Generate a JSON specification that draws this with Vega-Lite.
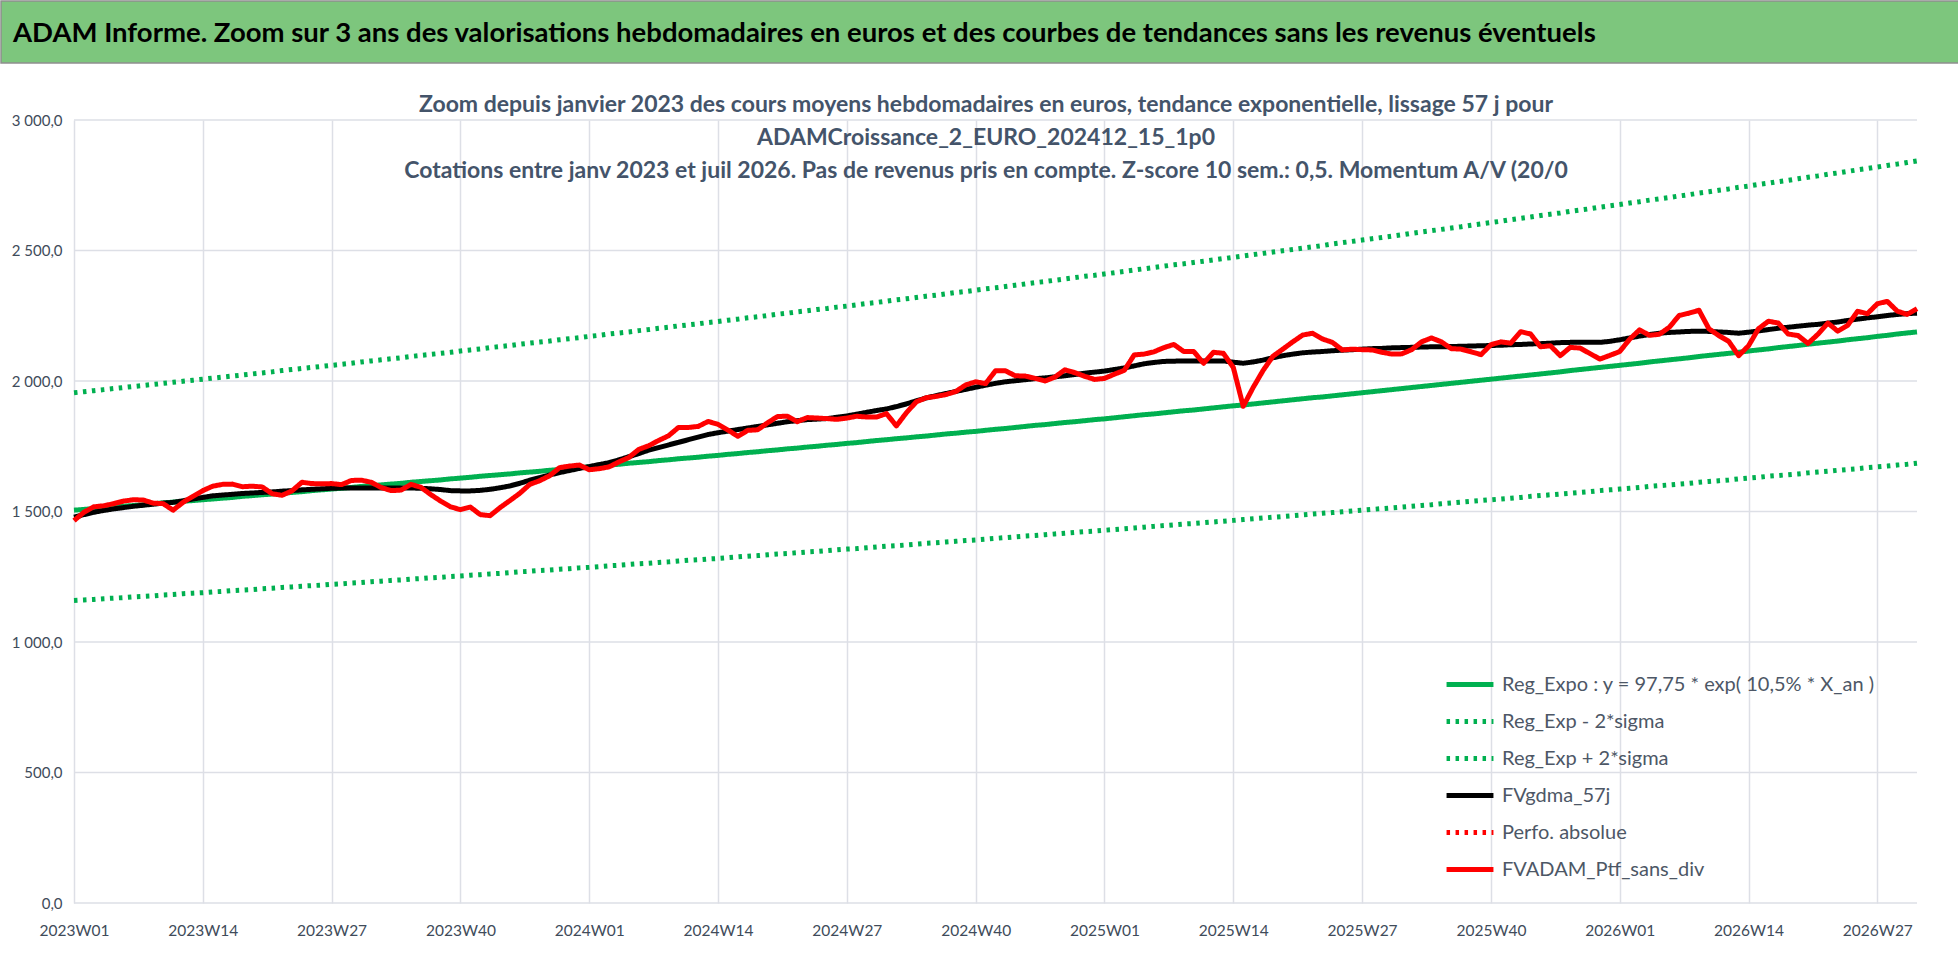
{
"$schema": "https://vega.github.io/schema/vega-lite/v6.json",
"padding": 0,
"background": "white",
"spacing": 30,
"resolve": {"legend": {"color": "independent", "strokeDash": "independent"}, "scale": {"x": "independent", "y": "independent"}},
"config": {
  "locale": {"number": {"decimal": ",", "thousands": " ", "grouping": [3], "currency": ["", " €"]}},
  "font": "Lato",
  "view": {"stroke": null}
},
"vconcat": [
{
  "width": 1958, "height": 62,
  "view": {"fill": "#7DC67D", "stroke": "#8F8F8F", "strokeWidth": 1.5},
  "data": {"values": [{"t": "ADAM Informe. Zoom sur 3 ans des valorisations hebdomadaires en euros et des courbes de tendances sans les revenus éventuels", "px": 0, "py": 0.47}]},
  "mark": {"type": "text", "align": "left", "baseline": "middle", "dx": 12, "font": "Lato", "fontSize": 27.5, "fontWeight": "bold", "color": "#000000"},
  "encoding": {
    "text": {"field": "t"},
    "x": {"field": "px", "type": "quantitative", "scale": {"domain": [0, 1]}, "axis": null},
    "y": {"field": "py", "type": "quantitative", "scale": {"domain": [0, 1]}, "axis": null}
  }
},
{
  "width": 1916, "height": 783,
  "title": {"text": ["Zoom depuis janvier 2023 des cours moyens hebdomadaires  en euros, tendance exponentielle, lissage 57 j pour", "ADAMCroissance_2_EURO_202412_15_1p0", "Cotations  entre janv 2023 et juil 2026. Pas de revenus pris en compte. Z-score 10 sem.: 0,5. Momentum A/V (20/0"], "anchor": "middle", "frame": "group", "orient": "top", "baseline": "bottom", "offset": -93, "dx": 27, "font": "Lato", "fontSize": 23, "lineHeight": 33, "fontWeight": "bold", "color": "#44546A"},
  "layer": [
  {
    "data": {"values": [{"g": 0}, {"g": 500}, {"g": 1000}, {"g": 1500}, {"g": 2000}, {"g": 2500}, {"g": 3000}]},
    "mark": {"type": "rule", "color": "#DDDFE6", "strokeWidth": 1.5},
    "encoding": {
      "y": {"field": "g", "type": "quantitative",
        "axis": {"values": [0, 500, 1000, 1500, 2000, 2500, 3000], "format": ",.1f", "title": null,
          "domain": false, "ticks": false, "tickSize": 0, "labelPadding": 0, "offset": -61,
          "grid": false, "labelFont": "Lato", "labelFontSize": 15, "labelColor": "#404B5A"}},
      "x": {"datum": "2023W01", "type": "ordinal"},
      "x2": {"datum": "2026W31"}
    }
  },
  {
  "data": {"values": [
{"w":"2023W01","a":1505,"b":1159,"c":1955,"d":1478,"f":1465},
{"w":"2023W02","a":1508,"b":1161,"c":1959,"d":1488,"f":1497},
{"w":"2023W03","a":1511,"b":1163,"c":1963,"d":1497,"f":1518},
{"w":"2023W04","a":1514,"b":1166,"c":1967,"d":1504,"f":1522},
{"w":"2023W05","a":1517,"b":1168,"c":1971,"d":1510,"f":1530},
{"w":"2023W06","a":1520,"b":1170,"c":1975,"d":1515,"f":1540},
{"w":"2023W07","a":1523,"b":1173,"c":1979,"d":1520,"f":1545},
{"w":"2023W08","a":1526,"b":1175,"c":1983,"d":1524,"f":1544},
{"w":"2023W09","a":1530,"b":1177,"c":1987,"d":1528,"f":1532},
{"w":"2023W10","a":1533,"b":1180,"c":1991,"d":1532,"f":1530},
{"w":"2023W11","a":1536,"b":1182,"c":1995,"d":1535,"f":1505},
{"w":"2023W12","a":1539,"b":1185,"c":1999,"d":1541,"f":1535},
{"w":"2023W13","a":1542,"b":1187,"c":2003,"d":1548,"f":1558},
{"w":"2023W14","a":1545,"b":1189,"c":2007,"d":1554,"f":1580},
{"w":"2023W15","a":1548,"b":1192,"c":2011,"d":1560,"f":1597},
{"w":"2023W16","a":1551,"b":1194,"c":2015,"d":1563,"f":1604},
{"w":"2023W17","a":1554,"b":1197,"c":2019,"d":1566,"f":1605},
{"w":"2023W18","a":1558,"b":1199,"c":2023,"d":1569,"f":1595},
{"w":"2023W19","a":1561,"b":1201,"c":2027,"d":1571,"f":1597},
{"w":"2023W20","a":1564,"b":1204,"c":2031,"d":1573,"f":1594},
{"w":"2023W21","a":1567,"b":1206,"c":2035,"d":1575,"f":1568},
{"w":"2023W22","a":1570,"b":1209,"c":2040,"d":1578,"f":1562},
{"w":"2023W23","a":1573,"b":1211,"c":2044,"d":1580,"f":1579},
{"w":"2023W24","a":1576,"b":1214,"c":2048,"d":1583,"f":1612},
{"w":"2023W25","a":1580,"b":1216,"c":2052,"d":1585,"f":1607},
{"w":"2023W26","a":1583,"b":1218,"c":2056,"d":1587,"f":1606},
{"w":"2023W27","a":1586,"b":1221,"c":2060,"d":1589,"f":1607},
{"w":"2023W28","a":1589,"b":1223,"c":2064,"d":1590,"f":1603},
{"w":"2023W29","a":1592,"b":1226,"c":2068,"d":1590,"f":1619},
{"w":"2023W30","a":1596,"b":1228,"c":2073,"d":1590,"f":1620},
{"w":"2023W31","a":1599,"b":1231,"c":2077,"d":1590,"f":1612},
{"w":"2023W32","a":1602,"b":1233,"c":2081,"d":1590,"f":1592},
{"w":"2023W33","a":1605,"b":1236,"c":2085,"d":1590,"f":1580},
{"w":"2023W34","a":1608,"b":1238,"c":2089,"d":1590,"f":1582},
{"w":"2023W35","a":1612,"b":1241,"c":2094,"d":1590,"f":1604},
{"w":"2023W36","a":1615,"b":1243,"c":2098,"d":1589,"f":1593},
{"w":"2023W37","a":1618,"b":1246,"c":2102,"d":1587,"f":1565},
{"w":"2023W38","a":1621,"b":1248,"c":2106,"d":1584,"f":1540},
{"w":"2023W39","a":1625,"b":1251,"c":2110,"d":1580,"f":1518},
{"w":"2023W40","a":1628,"b":1253,"c":2115,"d":1579,"f":1507},
{"w":"2023W41","a":1631,"b":1256,"c":2119,"d":1579,"f":1517},
{"w":"2023W42","a":1635,"b":1258,"c":2123,"d":1581,"f":1488},
{"w":"2023W43","a":1638,"b":1261,"c":2128,"d":1585,"f":1484},
{"w":"2023W44","a":1641,"b":1263,"c":2132,"d":1591,"f":1515},
{"w":"2023W45","a":1644,"b":1266,"c":2136,"d":1598,"f":1542},
{"w":"2023W46","a":1648,"b":1269,"c":2141,"d":1608,"f":1570},
{"w":"2023W47","a":1651,"b":1271,"c":2145,"d":1620,"f":1604},
{"w":"2023W48","a":1654,"b":1274,"c":2149,"d":1630,"f":1618},
{"w":"2023W49","a":1658,"b":1276,"c":2153,"d":1640,"f":1637},
{"w":"2023W50","a":1661,"b":1279,"c":2158,"d":1649,"f":1668},
{"w":"2023W51","a":1664,"b":1281,"c":2162,"d":1657,"f":1674},
{"w":"2023W52","a":1668,"b":1284,"c":2166,"d":1665,"f":1678},
{"w":"2024W01","a":1671,"b":1286,"c":2171,"d":1672,"f":1660},
{"w":"2024W02","a":1674,"b":1289,"c":2175,"d":1680,"f":1664},
{"w":"2024W03","a":1678,"b":1292,"c":2180,"d":1687,"f":1671},
{"w":"2024W04","a":1681,"b":1294,"c":2184,"d":1698,"f":1690},
{"w":"2024W05","a":1685,"b":1297,"c":2188,"d":1710,"f":1707},
{"w":"2024W06","a":1688,"b":1300,"c":2193,"d":1722,"f":1738},
{"w":"2024W07","a":1691,"b":1302,"c":2197,"d":1735,"f":1752},
{"w":"2024W08","a":1695,"b":1305,"c":2202,"d":1745,"f":1772},
{"w":"2024W09","a":1698,"b":1307,"c":2206,"d":1755,"f":1790},
{"w":"2024W10","a":1702,"b":1310,"c":2211,"d":1765,"f":1822},
{"w":"2024W11","a":1705,"b":1313,"c":2215,"d":1775,"f":1822},
{"w":"2024W12","a":1708,"b":1315,"c":2219,"d":1785,"f":1826},
{"w":"2024W13","a":1712,"b":1318,"c":2224,"d":1795,"f":1845},
{"w":"2024W14","a":1715,"b":1320,"c":2228,"d":1802,"f":1834},
{"w":"2024W15","a":1719,"b":1323,"c":2233,"d":1808,"f":1812},
{"w":"2024W16","a":1722,"b":1326,"c":2237,"d":1814,"f":1788},
{"w":"2024W17","a":1726,"b":1329,"c":2242,"d":1820,"f":1811},
{"w":"2024W18","a":1729,"b":1331,"c":2246,"d":1826,"f":1813},
{"w":"2024W19","a":1733,"b":1334,"c":2251,"d":1832,"f":1840},
{"w":"2024W20","a":1736,"b":1337,"c":2256,"d":1838,"f":1864},
{"w":"2024W21","a":1740,"b":1339,"c":2260,"d":1844,"f":1865},
{"w":"2024W22","a":1743,"b":1342,"c":2265,"d":1848,"f":1844},
{"w":"2024W23","a":1747,"b":1345,"c":2269,"d":1852,"f":1860},
{"w":"2024W24","a":1750,"b":1347,"c":2274,"d":1854,"f":1858},
{"w":"2024W25","a":1754,"b":1350,"c":2278,"d":1856,"f":1856},
{"w":"2024W26","a":1757,"b":1353,"c":2283,"d":1861,"f":1853},
{"w":"2024W27","a":1761,"b":1356,"c":2287,"d":1866,"f":1858},
{"w":"2024W28","a":1764,"b":1358,"c":2292,"d":1873,"f":1865},
{"w":"2024W29","a":1768,"b":1361,"c":2297,"d":1880,"f":1862},
{"w":"2024W30","a":1772,"b":1364,"c":2301,"d":1887,"f":1862},
{"w":"2024W31","a":1775,"b":1367,"c":2306,"d":1893,"f":1875},
{"w":"2024W32","a":1779,"b":1369,"c":2311,"d":1902,"f":1828},
{"w":"2024W33","a":1782,"b":1372,"c":2315,"d":1912,"f":1878},
{"w":"2024W34","a":1786,"b":1375,"c":2320,"d":1924,"f":1920},
{"w":"2024W35","a":1789,"b":1378,"c":2325,"d":1935,"f":1936},
{"w":"2024W36","a":1793,"b":1380,"c":2329,"d":1944,"f":1941},
{"w":"2024W37","a":1797,"b":1383,"c":2334,"d":1952,"f":1948},
{"w":"2024W38","a":1800,"b":1386,"c":2339,"d":1960,"f":1960},
{"w":"2024W39","a":1804,"b":1389,"c":2343,"d":1968,"f":1985},
{"w":"2024W40","a":1807,"b":1391,"c":2348,"d":1976,"f":1997},
{"w":"2024W41","a":1811,"b":1394,"c":2353,"d":1984,"f":1990},
{"w":"2024W42","a":1815,"b":1397,"c":2357,"d":1991,"f":2039},
{"w":"2024W43","a":1818,"b":1400,"c":2362,"d":1997,"f":2039},
{"w":"2024W44","a":1822,"b":1403,"c":2367,"d":2001,"f":2020},
{"w":"2024W45","a":1826,"b":1406,"c":2372,"d":2005,"f":2019},
{"w":"2024W46","a":1830,"b":1408,"c":2377,"d":2009,"f":2010},
{"w":"2024W47","a":1833,"b":1411,"c":2381,"d":2012,"f":2000},
{"w":"2024W48","a":1837,"b":1414,"c":2386,"d":2016,"f":2015},
{"w":"2024W49","a":1841,"b":1417,"c":2391,"d":2020,"f":2043},
{"w":"2024W50","a":1844,"b":1420,"c":2396,"d":2025,"f":2032},
{"w":"2024W51","a":1848,"b":1423,"c":2401,"d":2030,"f":2018},
{"w":"2024W52","a":1852,"b":1425,"c":2405,"d":2034,"f":2006},
{"w":"2025W01","a":1855,"b":1428,"c":2410,"d":2038,"f":2010},
{"w":"2025W02","a":1859,"b":1431,"c":2415,"d":2044,"f":2026},
{"w":"2025W03","a":1863,"b":1434,"c":2420,"d":2050,"f":2041},
{"w":"2025W04","a":1867,"b":1437,"c":2425,"d":2058,"f":2100},
{"w":"2025W05","a":1871,"b":1440,"c":2430,"d":2066,"f":2103},
{"w":"2025W06","a":1874,"b":1443,"c":2435,"d":2071,"f":2112},
{"w":"2025W07","a":1878,"b":1446,"c":2440,"d":2075,"f":2128},
{"w":"2025W08","a":1882,"b":1449,"c":2445,"d":2076,"f":2140},
{"w":"2025W09","a":1886,"b":1452,"c":2449,"d":2077,"f":2113},
{"w":"2025W10","a":1889,"b":1454,"c":2454,"d":2077,"f":2113},
{"w":"2025W11","a":1893,"b":1457,"c":2459,"d":2077,"f":2068},
{"w":"2025W12","a":1897,"b":1460,"c":2464,"d":2077,"f":2110},
{"w":"2025W13","a":1901,"b":1463,"c":2469,"d":2077,"f":2106},
{"w":"2025W14","a":1905,"b":1466,"c":2474,"d":2072,"f":2052},
{"w":"2025W15","a":1908,"b":1469,"c":2479,"d":2068,"f":1903},
{"w":"2025W16","a":1912,"b":1472,"c":2484,"d":2073,"f":1975},
{"w":"2025W17","a":1916,"b":1475,"c":2489,"d":2080,"f":2040},
{"w":"2025W18","a":1920,"b":1478,"c":2494,"d":2089,"f":2095},
{"w":"2025W19","a":1924,"b":1481,"c":2499,"d":2097,"f":2122},
{"w":"2025W20","a":1928,"b":1484,"c":2504,"d":2103,"f":2150},
{"w":"2025W21","a":1932,"b":1487,"c":2509,"d":2108,"f":2176},
{"w":"2025W22","a":1936,"b":1490,"c":2514,"d":2111,"f":2183},
{"w":"2025W23","a":1939,"b":1493,"c":2519,"d":2113,"f":2161},
{"w":"2025W24","a":1943,"b":1496,"c":2525,"d":2116,"f":2148},
{"w":"2025W25","a":1947,"b":1499,"c":2530,"d":2118,"f":2119},
{"w":"2025W26","a":1951,"b":1502,"c":2535,"d":2120,"f":2122},
{"w":"2025W27","a":1955,"b":1505,"c":2540,"d":2122,"f":2120},
{"w":"2025W28","a":1959,"b":1508,"c":2545,"d":2124,"f":2119},
{"w":"2025W29","a":1963,"b":1511,"c":2550,"d":2125,"f":2110},
{"w":"2025W30","a":1967,"b":1514,"c":2555,"d":2127,"f":2103},
{"w":"2025W31","a":1971,"b":1517,"c":2560,"d":2128,"f":2104},
{"w":"2025W32","a":1975,"b":1520,"c":2566,"d":2129,"f":2120},
{"w":"2025W33","a":1979,"b":1523,"c":2571,"d":2130,"f":2150},
{"w":"2025W34","a":1983,"b":1526,"c":2576,"d":2131,"f":2165},
{"w":"2025W35","a":1987,"b":1530,"c":2581,"d":2131,"f":2150},
{"w":"2025W36","a":1991,"b":1533,"c":2586,"d":2132,"f":2124},
{"w":"2025W37","a":1995,"b":1536,"c":2591,"d":2133,"f":2122},
{"w":"2025W38","a":1999,"b":1539,"c":2597,"d":2134,"f":2112},
{"w":"2025W39","a":2003,"b":1542,"c":2602,"d":2135,"f":2101},
{"w":"2025W40","a":2007,"b":1545,"c":2607,"d":2136,"f":2139},
{"w":"2025W41","a":2011,"b":1548,"c":2612,"d":2137,"f":2150},
{"w":"2025W42","a":2015,"b":1551,"c":2618,"d":2139,"f":2145},
{"w":"2025W43","a":2019,"b":1554,"c":2623,"d":2140,"f":2189},
{"w":"2025W44","a":2023,"b":1558,"c":2628,"d":2142,"f":2180},
{"w":"2025W45","a":2027,"b":1561,"c":2634,"d":2143,"f":2131},
{"w":"2025W46","a":2031,"b":1564,"c":2639,"d":2145,"f":2135},
{"w":"2025W47","a":2035,"b":1567,"c":2644,"d":2147,"f":2097},
{"w":"2025W48","a":2040,"b":1570,"c":2650,"d":2148,"f":2129},
{"w":"2025W49","a":2044,"b":1573,"c":2655,"d":2148,"f":2126},
{"w":"2025W50","a":2048,"b":1576,"c":2660,"d":2148,"f":2105},
{"w":"2025W51","a":2052,"b":1580,"c":2666,"d":2148,"f":2084},
{"w":"2025W52","a":2056,"b":1583,"c":2671,"d":2152,"f":2098},
{"w":"2026W01","a":2060,"b":1586,"c":2676,"d":2158,"f":2113},
{"w":"2026W02","a":2064,"b":1589,"c":2682,"d":2165,"f":2160},
{"w":"2026W03","a":2068,"b":1592,"c":2687,"d":2172,"f":2196},
{"w":"2026W04","a":2073,"b":1596,"c":2693,"d":2178,"f":2175},
{"w":"2026W05","a":2077,"b":1599,"c":2698,"d":2183,"f":2179},
{"w":"2026W06","a":2081,"b":1602,"c":2703,"d":2186,"f":2206},
{"w":"2026W07","a":2085,"b":1605,"c":2709,"d":2188,"f":2251},
{"w":"2026W08","a":2089,"b":1608,"c":2714,"d":2190,"f":2260},
{"w":"2026W09","a":2094,"b":1612,"c":2720,"d":2191,"f":2271},
{"w":"2026W10","a":2098,"b":1615,"c":2725,"d":2190,"f":2200},
{"w":"2026W11","a":2102,"b":1618,"c":2731,"d":2188,"f":2174},
{"w":"2026W12","a":2106,"b":1621,"c":2736,"d":2186,"f":2152},
{"w":"2026W13","a":2110,"b":1625,"c":2742,"d":2183,"f":2097},
{"w":"2026W14","a":2115,"b":1628,"c":2747,"d":2187,"f":2135},
{"w":"2026W15","a":2119,"b":1631,"c":2753,"d":2192,"f":2200},
{"w":"2026W16","a":2123,"b":1635,"c":2758,"d":2197,"f":2229},
{"w":"2026W17","a":2128,"b":1638,"c":2764,"d":2202,"f":2222},
{"w":"2026W18","a":2132,"b":1641,"c":2769,"d":2206,"f":2180},
{"w":"2026W19","a":2136,"b":1644,"c":2775,"d":2210,"f":2174},
{"w":"2026W20","a":2141,"b":1648,"c":2781,"d":2214,"f":2144},
{"w":"2026W21","a":2145,"b":1651,"c":2786,"d":2217,"f":2179},
{"w":"2026W22","a":2149,"b":1654,"c":2792,"d":2222,"f":2222},
{"w":"2026W23","a":2153,"b":1658,"c":2797,"d":2226,"f":2191},
{"w":"2026W24","a":2158,"b":1661,"c":2803,"d":2232,"f":2213},
{"w":"2026W25","a":2162,"b":1664,"c":2809,"d":2237,"f":2267},
{"w":"2026W26","a":2166,"b":1668,"c":2814,"d":2242,"f":2258},
{"w":"2026W27","a":2171,"b":1671,"c":2820,"d":2246,"f":2296},
{"w":"2026W28","a":2175,"b":1674,"c":2826,"d":2251,"f":2305},
{"w":"2026W29","a":2180,"b":1678,"c":2831,"d":2255,"f":2268},
{"w":"2026W30","a":2184,"b":1681,"c":2837,"d":2258,"f":2255},
{"w":"2026W31","a":2188,"b":1685,"c":2843,"d":2260,"f":2277}
  ]},
  "transform": [{"fold": ["a", "b", "c", "d", "f"], "as": ["s", "v"]}],
  "mark": {"type": "line", "strokeWidth": 5, "strokeJoin": "round"},
  "encoding": {
    "x": {"field": "w", "type": "ordinal",
      "scale": {"type": "point", "padding": 0, "range": [73, 1916]},
      "axis": {"values": ["2023W01","2023W14","2023W27","2023W40","2024W01","2024W14","2024W27","2024W40","2025W01","2025W14","2025W27","2025W40","2026W01","2026W14","2026W27"],
        "labelAngle": 0, "title": null, "grid": true, "gridColor": "#DDDFE6", "gridWidth": 1.5,
        "domain": false, "ticks": false, "tickSize": 0, "labelOffset": 35,
        "labelFont": "Lato", "labelFontSize": 15.5, "labelColor": "#404B5A", "labelPadding": 27}},
    "y": {"field": "v", "type": "quantitative",
      "scale": {"domain": [0, 3000], "nice": false},
      "axis": {"values": [0, 500, 1000, 1500, 2000, 2500, 3000], "format": ",.1f", "title": null,
        "domain": false, "ticks": false, "tickSize": 0, "labelPadding": 0, "offset": -61,
        "grid": false, "labelFont": "Lato", "labelFontSize": 15, "labelColor": "#404B5A"}},
    "color": {"field": "s", "type": "nominal",
      "scale": {"domain": ["a", "b", "c", "d", "e", "f"], "range": ["#00B050", "#00B050", "#00B050", "#000000", "#FF0000", "#FF0000"]},
      "legend": {"title": null, "orient": "none", "legendX": 1443, "legendY": 546, "padding": 0,
        "symbolType": "stroke", "symbolStrokeWidth": 5, "symbolSize": 2200, "clipHeight": 37, "rowPadding": 0,
        "labelFont": "Lato", "labelFontSize": 20, "labelColor": "#4D5766", "labelOffset": 6, "labelLimit": 600,
        "labelExpr": "datum.label == 'a' ? 'Reg_Expo : y = 97,75 * exp( 10,5% *  X_an )' : datum.label == 'b' ? 'Reg_Exp - 2*sigma' : datum.label == 'c' ? 'Reg_Exp + 2*sigma' : datum.label == 'd' ? 'FVgdma_57j' : datum.label == 'e' ? 'Perfo. absolue' : 'FVADAM_Ptf_sans_div'"}},
    "strokeDash": {"field": "s", "type": "nominal",
      "scale": {"domain": ["a", "b", "c", "d", "e", "f"], "range": [[1, 0], [3.5, 5.5], [3.5, 5.5], [1, 0], [3.5, 5.5], [1, 0]]},
      "legend": {"title": null, "orient": "none", "legendX": 1443, "legendY": 546, "padding": 0,
        "symbolType": "stroke", "symbolStrokeWidth": 5, "symbolSize": 2200, "clipHeight": 37, "rowPadding": 0,
        "labelFont": "Lato", "labelFontSize": 20, "labelColor": "#4D5766", "labelOffset": 6, "labelLimit": 600,
        "labelExpr": "datum.label == 'a' ? 'Reg_Expo : y = 97,75 * exp( 10,5% *  X_an )' : datum.label == 'b' ? 'Reg_Exp - 2*sigma' : datum.label == 'c' ? 'Reg_Exp + 2*sigma' : datum.label == 'd' ? 'FVgdma_57j' : datum.label == 'e' ? 'Perfo. absolue' : 'FVADAM_Ptf_sans_div'"}}
  }
  }
  ]
}
]
}
